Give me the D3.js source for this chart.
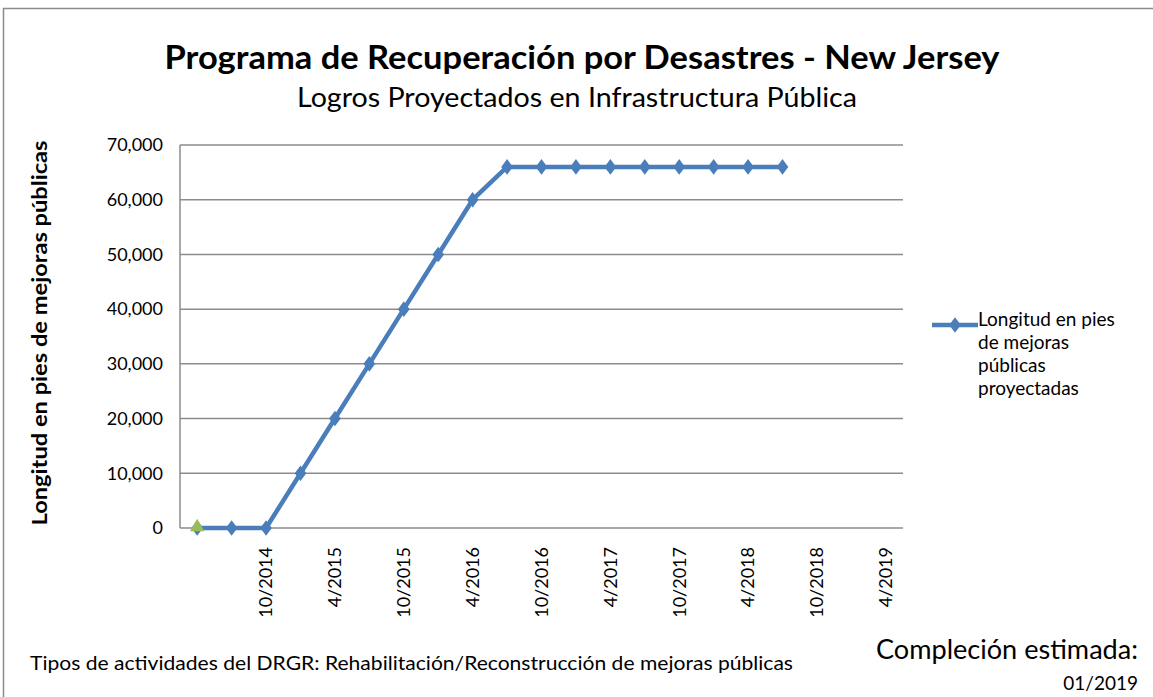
<!DOCTYPE html>
<html>
<head>
<meta charset="utf-8">
<script src="https://cdn.jsdelivr.net/npm/d3@7"></script>
<style>
  body { margin: 0; background: #fff; }
  text { font-family: Lato, "Open Sans", sans-serif; fill: #000; }
</style>
</head>
<body>
<svg id="chart" width="1153" height="697"></svg>
<script>
// DATA
const categories = ['4/2014', '7/2014', '10/2014', '1/2015', '4/2015', '7/2015', '10/2015', '1/2016', '4/2016', '7/2016',
                    '10/2016', '1/2017', '4/2017', '7/2017', '10/2017', '1/2018', '4/2018', '7/2018', '10/2018', '1/2019', '4/2019'];
const shownLabels = ['10/2014', '4/2015', '10/2015', '4/2016', '10/2016', '4/2017', '10/2017', '4/2018', '10/2018', '4/2019'];
const projected = [0, 0, 0, 10000, 20000, 30000, 40000, 50000, 60000, 66000,
                   66000, 66000, 66000, 66000, 66000, 66000, 66000, 66000];
const actual = [0];
const yTicks = [0, 10000, 20000, 30000, 40000, 50000, 60000, 70000];
const legendLines = ['Longitud en pies', 'de mejoras', 'públicas', 'proyectadas'];

const _color = { line: '#4a7ebb', actual: '#9bbb59', grid: '#8c8c8c', border: '#8c8c8c' };
const _plot = { left: 180, top: 145, right: 903, bottom: 528 };

let svg = d3.select('#chart');

svg.append('rect')
    .attr('x', 3.5).attr('y', 8.5)
    .attr('width', 1160).attr('height', 700)
    .attr('fill', '#fff')
    .attr('stroke', _color.border)
    .attr('stroke-width', 1.5);

// titles
svg.append('text')
    .attr('x', 582).attr('y', 69)
    .attr('text-anchor', 'middle')
    .attr('font-size', 32).attr('font-weight', 'bold')
    .attr('textLength', 835).attr('lengthAdjust', 'spacingAndGlyphs')
    .text('Programa de Recuperación por Desastres - New Jersey');
svg.append('text')
    .attr('x', 577).attr('y', 107)
    .attr('text-anchor', 'middle')
    .attr('font-size', 26)
    .attr('textLength', 560).attr('lengthAdjust', 'spacingAndGlyphs')
    .text('Logros Proyectados en Infrastructura Pública');

let x = d3.scaleBand()
            .domain(categories)
            .range([_plot.left, _plot.right]);
let y = d3.scaleLinear()
            .domain([0, 70000])
            .range([_plot.bottom, _plot.top]);

// gridlines
svg.append('g')
    .selectAll('line')
    .data(yTicks)
    .enter()
  .append('line')
    .attr('x1', _plot.left).attr('x2', _plot.right)
    .attr('y1', d => y(d)).attr('y2', d => y(d))
    .attr('stroke', _color.grid)
    .attr('stroke-width', 1.5);

svg.append('line')
    .attr('x1', _plot.left).attr('x2', _plot.left)
    .attr('y1', _plot.top).attr('y2', _plot.bottom)
    .attr('stroke', _color.grid)
    .attr('stroke-width', 1.5);

// y axis labels
let yAxis = d3.axisLeft(y)
                .tickValues(yTicks)
                .tickFormat(d3.format(','))
                .tickSize(0)
                .tickPadding(17);
let yG = svg.append('g')
            .attr('transform', `translate(${_plot.left}, 0)`)
            .call(yAxis);
yG.select('.domain').remove();
yG.selectAll('text')
    .attr('font-size', 18)
    .attr('font-family', 'Lato, "Open Sans", sans-serif')
    .attr('fill', '#000');

// x axis labels
let xAxis = d3.axisBottom(x)
                .tickSize(0)
                .tickFormat(d => shownLabels.includes(d) ? d : '');
let xG = svg.append('g')
            .attr('transform', `translate(0, ${_plot.bottom})`)
            .call(xAxis);
xG.select('.domain').remove();
xG.selectAll('text')
    .attr('font-size', 18)
    .attr('font-family', 'Lato, "Open Sans", sans-serif')
    .attr('fill', '#000')
    .attr('text-anchor', 'end')
    .attr('dy', '0.35em')
    .attr('transform', 'translate(0, 19) rotate(-90)')
    .attr('x', 0).attr('y', 0);

// y title
svg.append('text')
    .attr('transform', `translate(47, 333) rotate(-90)`)
    .attr('text-anchor', 'middle')
    .attr('font-size', 20).attr('font-weight', 'bold')
    .attr('textLength', 385).attr('lengthAdjust', 'spacingAndGlyphs')
    .text('Longitud en pies de mejoras públicas');

// line
let cx = i => x(categories[i]) + x.bandwidth() / 2;
let line = d3.line()
                .x((d, i) => cx(i))
                .y(d => y(d));
svg.append('path')
    .datum(projected)
    .attr('d', line)
    .attr('fill', 'none')
    .attr('stroke', _color.line)
    .attr('stroke-width', 4.5)
    .attr('stroke-linejoin', 'round');

let diamond = d3.symbol().type(d3.symbolDiamond).size(70);
svg.append('g')
    .selectAll('path')
    .data(projected)
    .enter()
  .append('path')
    .attr('d', diamond)
    .attr('transform', (d, i) => `translate(${cx(i)}, ${y(d)}) scale(1.3, 1)`)
    .attr('fill', _color.line);

let triangle = d3.symbol().type(d3.symbolTriangle).size(90);
svg.append('g')
    .selectAll('path')
    .data(actual)
    .enter()
  .append('path')
    .attr('d', triangle)
    .attr('transform', (d, i) => `translate(${cx(i)}, ${y(d) - 1})`)
    .attr('fill', _color.actual);

// legend
let legend = svg.append('g').attr('transform', 'translate(932, 325)');
legend.append('line')
    .attr('x1', 0).attr('x2', 46)
    .attr('y1', 0).attr('y2', 0)
    .attr('stroke', _color.line)
    .attr('stroke-width', 4.5);
legend.append('path')
    .attr('d', diamond)
    .attr('transform', 'translate(23, 0) scale(1.3, 1)')
    .attr('fill', _color.line);
legend.selectAll('text')
    .data(legendLines)
    .enter()
  .append('text')
    .attr('x', 46)
    .attr('y', (d, i) => 1 + i * 23)
    .attr('font-size', 19)
    .text(d => d);

// footer
svg.append('text')
    .attr('x', 30).attr('y', 670)
    .attr('font-size', 19)
    .attr('textLength', 763).attr('lengthAdjust', 'spacingAndGlyphs')
    .text('Tipos de actividades del DRGR: Rehabilitación/Reconstrucción de mejoras públicas');
svg.append('text')
    .attr('x', 1138).attr('y', 659)
    .attr('text-anchor', 'end')
    .attr('font-size', 26)
    .attr('textLength', 262).attr('lengthAdjust', 'spacingAndGlyphs')
    .text('Compleción estimada:');
svg.append('text')
    .attr('x', 1138).attr('y', 690)
    .attr('text-anchor', 'end')
    .attr('font-size', 19)
    .text('01/2019');
</script>
</body>
</html>
